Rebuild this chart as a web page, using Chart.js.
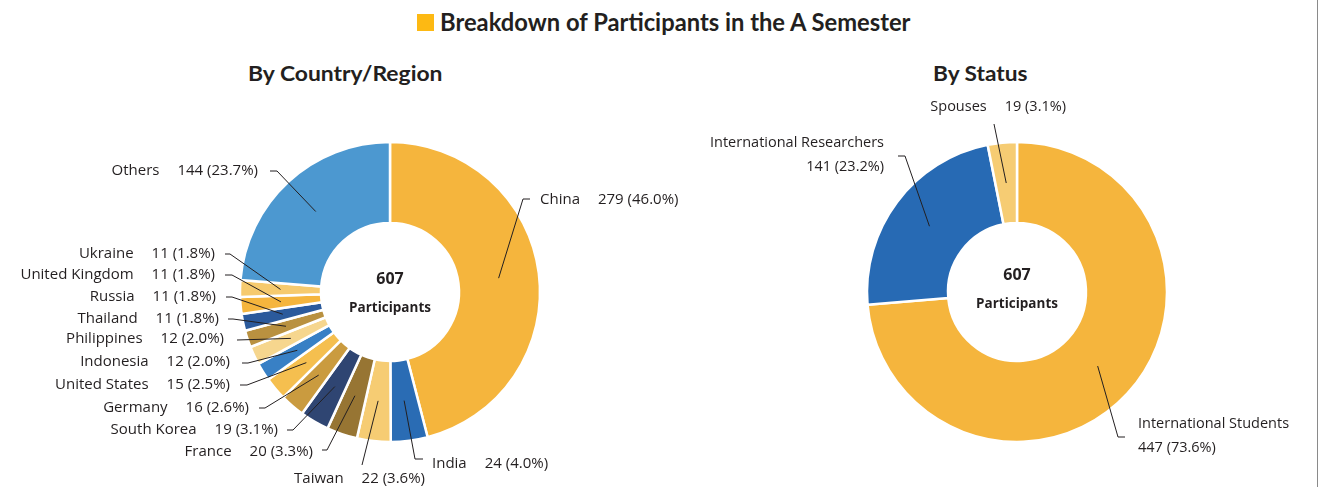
<!DOCTYPE html>
<html>
<head>
<meta charset="utf-8">
<title>Breakdown of Participants in the A Semester</title>
<script src="https://cdn.jsdelivr.net/npm/chart.js@4.4.1/dist/chart.umd.min.js"></script>
<style>
  body { margin: 0; background: #fff; width: 1319px; height: 487px; overflow: hidden; position: relative; color: #231f20; font-family: "Open Sans", sans-serif; }
  canvas { position: absolute; left: 0; top: 0; }
  .fit { position: absolute; white-space: nowrap; font-weight: bold; line-height: 1; transform-origin: 0 50%; font-family: Lato, "Open Sans", sans-serif; }
  #mark { position: absolute; left: 417px; top: 14px; width: 17px; height: 17px; background: #fdb913; }
  #edge { position: absolute; left: 1317px; top: 0; width: 1px; height: 487px; background: #8a8a8a; }
</style>
</head>
<body>
<div id="mark"></div>
<div class="fit" id="title" style="font-size:24px" data-x="440" data-y="22" data-w="470">Breakdown of Participants in the A Semester</div>
<div class="fit" id="subLeft" style="font-size:21px" data-x="248" data-y="72" data-w="195">By Country/Region</div>
<div class="fit" id="subRight" style="font-size:21px" data-x="933" data-y="72" data-w="95">By Status</div>
<div id="edge"></div>
<canvas id="countryChart" width="1319" height="487"></canvas>
<canvas id="statusChart" width="1319" height="487"></canvas>
<script>
// ---- data ----
const totalParticipants = 607;

const countryLabels = ['China', 'India', 'Taiwan', 'France', 'South Korea', 'Germany', 'United States',
  'Indonesia', 'Philippines', 'Thailand', 'Russia', 'United Kingdom', 'Ukraine', 'Others'];
const countryValues = [279, 24, 22, 20, 19, 16, 15, 12, 12, 11, 11, 11, 11, 144];
const countryColors = ['#f5b53d', '#2a6cb4', '#f6cc73', '#977533', '#2f4572', '#ca9b3f', '#f5bf4f',
  '#3880c5', '#f6d68e', '#b99140', '#2b5a9c', '#f5b53d', '#f6ca6e', '#4c98d0'];

const statusLabels = ['International Students', 'International Researchers', 'Spouses'];
const statusValues = [447, 141, 19];
const statusColors = ['#f5b53d', '#276ab4', '#f6cc73'];

// ---- label placement (text anchor + leader bend points; the leader ends inside the slice) ----
const countryLabelLayout = [
  { x: 540, y: 200, align: 'left',  lead: [[530, 199], [523, 199]] },
  { x: 432, y: 464, align: 'left',  lead: [[423, 459], [415, 459]] },
  { x: 425, y: 479, align: 'right', lead: [[362, 465]] },
  { x: 313, y: 452, align: 'right', lead: [[322, 450], [327, 450]] },
  { x: 278, y: 430, align: 'right', lead: [[287, 430], [293, 430]] },
  { x: 249, y: 408, align: 'right', lead: [[259, 408], [265, 408]] },
  { x: 230, y: 385, align: 'right', lead: [[240, 385], [247, 385]] },
  { x: 230, y: 362, align: 'right', lead: [[242, 363], [248, 363]] },
  { x: 224, y: 339, align: 'right', lead: [[237, 340]] },
  { x: 219, y: 319, align: 'right', lead: [[228, 319], [233, 319]] },
  { x: 216, y: 297, align: 'right', lead: [[226, 297], [232, 297]] },
  { x: 215, y: 275, align: 'right', lead: [[225, 275], [232, 275]] },
  { x: 215, y: 254, align: 'right', lead: [[225, 254], [230, 254]] },
  { x: 258, y: 171, align: 'right', lead: [[270, 171], [277, 171]] }
];
const statusLabelLayout = [
  { x: 1138, y: 424, align: 'left',  stacked: true, lead: [[1125, 437], [1118, 437]] },
  { x: 884,  y: 143, align: 'right', stacked: true, lead: [[898, 156], [905, 156]] },
  { x: 1066, y: 107, align: 'right', lead: [[994, 124]] }
];

function pct(v) {
  return v + ' (' + (v / totalParticipants * 100).toFixed(1) + '%)';
}

// draws the leader lines, the outside labels and the centre text
const calloutPlugin = {
  id: 'callouts',
  afterDraw(chart, args, opts) {
    const ctx = chart.ctx;
    const meta = chart.getDatasetMeta(0);
    const labels = chart.data.labels;
    const values = chart.data.datasets[0].data;
    ctx.save();
    ctx.fillStyle = '#231f20';
    ctx.strokeStyle = '#231f20';
    ctx.lineWidth = 1;
    ctx.textBaseline = 'middle';
    ctx.font = opts.fontSize + 'px "Open Sans", sans-serif';
    const gap = 18;

    meta.data.forEach((arc, i) => {
      const p = arc.getProps(['x', 'y', 'startAngle', 'endAngle', 'innerRadius', 'outerRadius'], true);
      const mid = (p.startAngle + p.endAngle) / 2;
      const r = (p.innerRadius + p.outerRadius) / 2;
      const px = p.x + Math.cos(mid) * r;
      const py = p.y + Math.sin(mid) * r;
      const lay = opts.layout[i];

      ctx.beginPath();
      ctx.moveTo(lay.lead[0][0], lay.lead[0][1]);
      for (let k = 1; k < lay.lead.length; k++) ctx.lineTo(lay.lead[k][0], lay.lead[k][1]);
      ctx.lineTo(px, py);
      ctx.stroke();

      const name = labels[i];
      const val = pct(values[i]);
      if (lay.stacked) {
        ctx.textAlign = lay.align;
        ctx.fillText(name, lay.x, lay.y);
        ctx.fillText(val, lay.x, lay.y + 24);
      } else if (lay.align === 'right') {
        ctx.textAlign = 'right';
        ctx.fillText(val, lay.x, lay.y);
        ctx.fillText(name, lay.x - ctx.measureText(val).width - gap, lay.y);
      } else {
        ctx.textAlign = 'left';
        ctx.fillText(name, lay.x, lay.y);
        ctx.fillText(val, lay.x + ctx.measureText(name).width + gap, lay.y);
      }
    });

    // centre text
    const c = meta.data[0];
    ctx.textAlign = 'center';
    ctx.font = 'bold 16px "Open Sans", sans-serif';
    ctx.fillText(String(totalParticipants), c.x, opts.centerY);
    ctx.font = 'bold 13.5px "Open Sans", sans-serif';
    ctx.fillText('Participants', c.x, opts.centerY + 29);
    ctx.restore();
  }
};

function makeDoughnut(id, labels, values, colors, padding, layout, fontSize, centerY) {
  const canvas = document.getElementById(id);
  if (!canvas) {
    console.warn('canvas ' + id + ' not found');
    return null;
  }
  return new Chart(canvas.getContext('2d'), {
    type: 'doughnut',
    data: {
      labels: labels,
      datasets: [{
        data: values,
        backgroundColor: colors,
        borderColor: '#ffffff',
        borderWidth: 2.5
      }]
    },
    options: {
      responsive: false,
      animation: false,
      events: [],
      radius: 150,
      cutout: '46%',
      layout: { padding: padding },
      plugins: {
        legend: { display: false },
        tooltip: { enabled: false },
        callouts: { layout: layout, fontSize: fontSize, centerY: centerY }
      }
    },
    plugins: [calloutPlugin]
  });
}

makeDoughnut('countryChart', countryLabels, countryValues, countryColors,
  { left: 240, right: 779, top: 142, bottom: 45 }, countryLabelLayout, 15, 279);
makeDoughnut('statusChart', statusLabels, statusValues, statusColors,
  { left: 867, right: 152, top: 142, bottom: 45 }, statusLabelLayout, 14.5, 275);

// squeeze the headings to the width they take in the original
document.querySelectorAll('.fit').forEach(el => {
  const w = el.offsetWidth, h = el.offsetHeight;
  el.style.left = el.dataset.x + 'px';
  el.style.top = (el.dataset.y - h / 2) + 'px';
  el.style.transform = 'scaleX(' + (el.dataset.w / w) + ')';
});
</script>
</body>
</html>
